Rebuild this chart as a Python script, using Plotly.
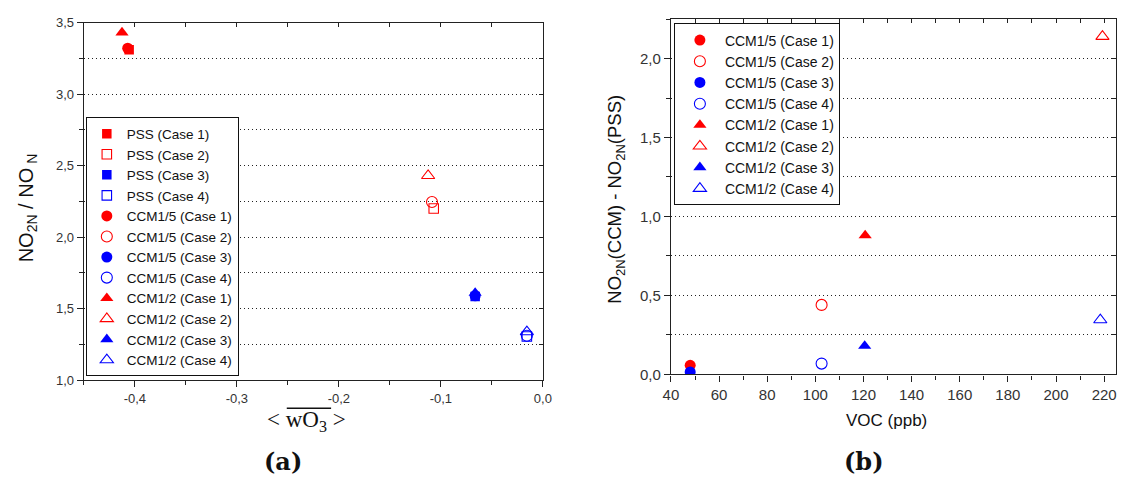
import plotly.graph_objects as go

RED = "#ff0000"
BLUE = "#0000ff"
SANS = "Arial, Liberation Sans, sans-serif"
SERIF = "Liberation Serif, DejaVu Serif, serif"
BOLD_SERIF = "DejaVu Serif, Liberation Serif, serif"

# ---- shared case styling ----
cases = ["Case 1", "Case 2", "Case 3", "Case 4"]
case_colors = [RED, RED, BLUE, BLUE]
case_filled = [True, False, True, False]

# ---- panel (a): NO2N/NON ratio versus <w'O3'> ----
w_pss = [-0.4056, -0.1070, -0.0664, -0.0157]
ratio_pss = [3.31, 2.20, 1.585, 1.305]
w_ccm5 = [-0.4070, -0.1087, -0.0664, -0.0157]
ratio_ccm5 = [3.32, 2.245, 1.59, 1.31]
w_ccm2 = [-0.4126, -0.1125, -0.0664, -0.0157]
ratio_ccm2 = [3.43, 2.43, 1.61, 1.338]

# ---- panel (b): NO2N(CCM) - NO2N(PSS) versus VOC ----
voc_ccm5 = [48.0, 102.6, 48.0, 102.6]
diff_ccm5 = [0.057, 0.44, 0.015, 0.068]
voc_ccm2 = [120.7, 219.3, 120.5, 218.4]
diff_ccm2 = [0.88, 2.14, 0.18, 0.345]

# ---- tick labels (comma decimal separator, plain hyphen minus) ----
xa_vals = [-0.4, -0.3, -0.2, -0.1, 0.0]
xa_text = ["-0,4", "-0,3", "-0,2", "-0,1", "0,0"]
ya_vals = [1.0, 1.5, 2.0, 2.5, 3.0, 3.5]
ya_text = ["1,0", "1,5", "2,0", "2,5", "3,0", "3,5"]
xb_vals = [40, 60, 80, 100, 120, 140, 160, 180, 200, 220]
xb_text = ["40", "60", "80", "100", "120", "140", "160", "180", "200", "220"]
yb_vals = [0.0, 0.5, 1.0, 1.5, 2.0]
yb_text = ["0,0", "0,5", "1,0", "1,5", "2,0"]

fig = go.Figure()


def add_series(xs, ys, base_symbol, series_name, xaxis, yaxis, legend, size):
    for i, case in enumerate(cases):
        color = case_colors[i]
        filled = case_filled[i]
        fig.add_trace(go.Scatter(
            x=[xs[i]], y=[ys[i]], mode="markers",
            name=f"{series_name} ({case})",
            xaxis=xaxis, yaxis=yaxis, legend=legend,
            marker=dict(
                symbol=base_symbol if filled else base_symbol + "-open",
                size=size, color=color,
                line=dict(color=color, width=0 if filled else 1.1),
            ),
        ))


add_series(w_pss, ratio_pss, "square", "PSS", "x", "y", "legend", 9.5)
add_series(w_ccm5, ratio_ccm5, "circle", "CCM1/5", "x", "y", "legend", 11)
add_series(w_ccm2, ratio_ccm2, "triangle-up", "CCM1/2", "x", "y", "legend", 11.5)

add_series(voc_ccm5, diff_ccm5, "circle", "CCM1/5", "x2", "y2", "legend2", 11)
add_series(voc_ccm2, diff_ccm2, "triangle-up", "CCM1/2", "x2", "y2", "legend2", 11.5)

# empty traces so the mirrored (top / right) frame axes are drawn
fig.add_trace(go.Scatter(x=[], y=[], xaxis="x3", yaxis="y3", showlegend=False))
fig.add_trace(go.Scatter(x=[], y=[], xaxis="x4", yaxis="y4", showlegend=False))

AX_COLOR = "#222222"
GRID = dict(gridcolor="#222222", gridwidth=1, griddash="1.5px,2.5px")


def base_axis(domain, rng, vals, text, font_size, minor_dtick, minor_tick0, anchor):
    return dict(
        domain=domain, range=rng, anchor=anchor,
        tickmode="array", tickvals=vals, ticktext=text,
        ticks="outside", ticklen=6, tickwidth=1.2, tickcolor=AX_COLOR,
        showline=True, linecolor=AX_COLOR, linewidth=1.4,
        tickfont=dict(family=SANS, size=font_size, color="#333333"),
        zeroline=False, showgrid=False,
        minor=dict(ticks="outside", ticklen=4, tickwidth=1.2, tickcolor=AX_COLOR,
                   tickmode="linear", dtick=minor_dtick, tick0=minor_tick0),
    )


def frame_axis(rng, vals, side, overlay, anchor, minor_dtick, minor_tick0):
    return dict(
        range=rng, overlaying=overlay, side=side, anchor=anchor,
        tickmode="array", tickvals=vals, ticktext=[""] * len(vals),
        ticks="inside", ticklen=6, tickwidth=1.2, tickcolor=AX_COLOR,
        showline=True, linecolor=AX_COLOR, linewidth=1.4,
        showticklabels=False, showgrid=False, zeroline=False,
        minor=dict(ticks="inside", ticklen=4, tickwidth=1.2, tickcolor=AX_COLOR,
                   tickmode="linear", dtick=minor_dtick, tick0=minor_tick0),
    )


W, H = 1137, 488
xa_dom = [77 / W, 543 / W]
ya_dom = [1 - 385 / H, 1 - 16 / H]
xb_dom = [673 / W, 1125 / W]
yb_dom = [1 - 379 / H, 1 - 12.5 / H]

xa_rng = [-0.45, 0.0]
ya_rng = [1.0, 3.5]
xb_rng = [40, 225]
yb_rng = [0.0, 2.25]

ya = base_axis(ya_dom, ya_rng, ya_vals, ya_text, 13, 0.25, 1.0, "x")
ya.update(showgrid=True, **GRID)
ya["minor"].update(showgrid=True, **GRID)
yb = base_axis(yb_dom, yb_rng, yb_vals, yb_text, 15, 0.25, 0.0, "x2")
yb.update(showgrid=True, **GRID)
yb["minor"].update(showgrid=True, **GRID)

fig.update_layout(
    width=W, height=H,
    margin=dict(l=0, r=0, t=0, b=0),
    paper_bgcolor="white", plot_bgcolor="white",
    font=dict(family=SANS, color="#111111"),
    xaxis=base_axis(xa_dom, xa_rng, xa_vals, xa_text, 13, 0.05, -0.45, "y"),
    yaxis=ya,
    xaxis2=base_axis(xb_dom, xb_rng, xb_vals, xb_text, 15, 10, 40, "y2"),
    yaxis2=yb,
    xaxis3=frame_axis(xa_rng, xa_vals, "top", "x", "y", 0.05, -0.45),
    yaxis3=frame_axis(ya_rng, ya_vals, "right", "y", "x", 0.25, 1.0),
    xaxis4=frame_axis(xb_rng, xb_vals, "top", "x2", "y2", 10, 40),
    yaxis4=frame_axis(yb_rng, yb_vals, "right", "y2", "x2", 0.25, 0.0),
    legend=dict(
        x=79 / W, y=1 - 114 / H, xanchor="left", yanchor="top",
        bgcolor="white", bordercolor="#111111", borderwidth=1,
        font=dict(family=SANS, size=13.5, color="#111111"),
        tracegroupgap=0,
    ),
    legend2=dict(
        x=676 / W, y=1 - 17 / H, xanchor="left", yanchor="top",
        bgcolor="white", bordercolor="#111111", borderwidth=1,
        font=dict(family=SANS, size=14, color="#111111"),
        itemwidth=40, tracegroupgap=0,
    ),
)

annotations = [
    dict(text="NO<sub>2N</sub> / NO<sub> N</sub>", x=20 / W, y=1 - 207 / H,
         textangle=-90, font=dict(family=SANS, size=20, color="#111111")),
    dict(text="NO<sub>2N</sub>(CCM) - NO<sub>2N</sub>(PSS)", x=617 / W, y=1 - 198 / H,
         textangle=-90, font=dict(family=SANS, size=18.5, color="#111111")),
    dict(text="&lt; wO<sub>3</sub> &gt;", x=303 / W, y=1 - 427 / H,
         font=dict(family=SERIF, size=23, color="#111111")),
    dict(text="VOC (ppb)", x=892 / W, y=1 - 427 / H,
         font=dict(family=SANS, size=17, color="#111111")),
    dict(text="<b>(a)</b>", x=279 / W, y=1 - 469 / H,
         font=dict(family=BOLD_SERIF, size=24, color="#111111")),
    dict(text="<b>(b)</b>", x=869 / W, y=1 - 469 / H,
         font=dict(family=BOLD_SERIF, size=24, color="#111111")),
]
for a in annotations:
    a.update(xref="paper", yref="paper", showarrow=False,
             xanchor="center", yanchor="middle")
fig.update_layout(annotations=annotations)

# overline above "wO3" in the x-axis title of panel (a)
fig.add_shape(type="line", xref="paper", yref="paper",
              x0=283 / W, x1=328 / W, y0=1 - 414 / H, y1=1 - 414 / H,
              line=dict(color="#111111", width=1.3))

fig.write_html("out.html")
